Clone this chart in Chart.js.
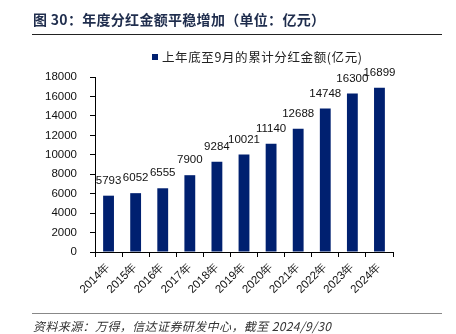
<!DOCTYPE html>
<html lang="zh">
<head>
<meta charset="UTF-8">
<title>年度分红金额平稳增加</title>
<script src="https://cdn.jsdelivr.net/npm/chart.js"></script>
<style>
  html, body { margin: 0; padding: 0; background: #fff; }
  #wrap { position: relative; width: 456px; height: 334px; overflow: hidden; }
  #title {
    position: absolute; left: 33px; top: 9px;
    font: bold 14px "Noto Sans CJK SC", sans-serif; color: #1f2d4d;
    letter-spacing: 0.3px; white-space: nowrap;
  }
  #titleLine { position: absolute; left: 32px; top: 34px; width: 410px; height: 0; border-top: 1.5px solid #222; }
  #legend {
    position: absolute; left: 152px; top: 47px;
    font: 12.5px "Noto Sans CJK SC", sans-serif; color: #222;
    letter-spacing: 0.6px; white-space: nowrap;
  }
  #legend i { display: inline-block; width: 6px; height: 6px; background: #002070; margin-right: 4px; vertical-align: 2px; }
  #footLine { position: absolute; left: 32px; top: 313px; width: 410px; height: 0; border-top: 1px solid #888; }
  #foot {
    position: absolute; left: 33px; top: 317px;
    font: italic 12px "Noto Sans CJK SC", sans-serif; color: #333;
    letter-spacing: 0.4px; white-space: nowrap;
  }
  canvas { position: absolute; left: 0; top: 0; }
</style>
</head>
<body>
<div id="wrap">
  <canvas id="chart" width="456" height="334"></canvas>
  <div id="title">图 30：年度分红金额平稳增加（单位：亿元）</div>
  <div id="titleLine"></div>
  <div id="legend"></div>
  <div id="footLine"></div>
  <div id="foot">资料来源：万得，信达证券研发中心，截至 2024/9/30</div>
</div>
<script>
// 年份与累计分红金额（亿元）
const years = ['2014年', '2015年', '2016年', '2017年', '2018年', '2019年', '2020年', '2021年', '2022年', '2023年', '2024年'];
const dividends = [5793, 6052, 6555, 7900, 9284, 10021, 11140, 12688, 14748, 16300, 16899];
const yTicks = [0, 2000, 4000, 6000, 8000, 10000, 12000, 14000, 16000, 18000];
const seriesName = '上年底至9月的累计分红金额(亿元)';

const barColor = '#002070';
const axisFont = { family: '"Liberation Sans", Arial, sans-serif', size: 11.5 };

document.getElementById('legend').innerHTML = '<i></i>' + seriesName;

// 柱顶数值标签
const valueLabels = {
  id: 'valueLabels',
  afterDatasetsDraw(chart) {
    const ctx = chart.ctx;
    const meta = chart.getDatasetMeta(0);
    ctx.save();
    ctx.font = '11.5px "Liberation Sans", Arial, sans-serif';
    ctx.fillStyle = '#111';
    ctx.textAlign = 'center';
    ctx.textBaseline = 'middle';
    meta.data.forEach((bar, i) => {
      ctx.fillText(String(dividends[i]), bar.x, bar.y - 15);
    });
    ctx.restore();
  }
};

new Chart(document.getElementById('chart'), {
  type: 'bar',
  data: {
    labels: years,
    datasets: [{
      label: seriesName,
      data: dividends,
      backgroundColor: barColor,
      borderWidth: 0,
      categoryPercentage: 1,
      barPercentage: 0.4
    }]
  },
  options: {
    responsive: false,
    animation: false,
    layout: { padding: { left: 30, right: 63, top: 77, bottom: 32 } },
    plugins: {
      legend: { display: false },
      tooltip: { enabled: false }
    },
    scales: {
      x: {
        afterFit: s => { s.height = 50; },
        grid: { offset: true, drawOnChartArea: false, drawTicks: true, tickLength: 5, color: '#000' },
        border: { color: '#000', width: 1 },
        ticks: { color: '#111', font: axisFont, minRotation: 45, maxRotation: 45, padding: 3, autoSkip: false }
      },
      y: {
        min: 0,
        max: 18000,
        afterFit: s => { s.width = 65; },
        afterBuildTicks: s => { s.ticks = yTicks.map(v => ({ value: v })); },
        grid: { drawOnChartArea: false, drawTicks: true, tickLength: 5, color: '#000' },
        border: { color: '#000', width: 1 },
        ticks: { color: '#111', font: axisFont, padding: 13, callback: v => String(v) }
      }
    }
  },
  plugins: [valueLabels]
});
</script>
</body>
</html>
